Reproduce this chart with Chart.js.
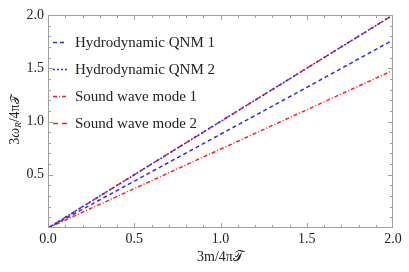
<!DOCTYPE html>
<html>
<head>
<meta charset="utf-8">
<script src="https://cdn.jsdelivr.net/npm/chart.js@4"></script>
<style>
  html, body { margin: 0; padding: 0; background: #fff; }
  #wrap { width: 409px; height: 272px; }
</style>
</head>
<body>
<div id="wrap"><canvas id="chart" width="409" height="272"></canvas></div>
<script>
// DATA
const xValues = [0, 0.5, 1.0, 1.5, 2.0];
const hydroQNM1 = [0, 0.44, 0.88, 1.32, 1.765];
const hydroQNM2 = [0, 0.5, 1.0, 1.5, 2.0];
const soundMode1 = [0, 0.37, 0.74, 1.11, 1.48];
const soundMode2 = [0, 0.5, 1.0, 1.5, 2.0];
const seriesLabels = ["Hydrodynamic QNM 1", "Hydrodynamic QNM 2", "Sound wave mode 1", "Sound wave mode 2"];
const xTicks = [0, 0.5, 1.0, 1.5, 2.0];
const yTicks = [0.5, 1.0, 1.5, 2.0];

const serif = "'Liberation Serif', 'DejaVu Serif', serif";
const blue = "#2a2aff";
const red = "#ff1f1f";
const frameColor = "#a0a0a0";

const toPoints = (ys) => xValues.map((x, i) => ({ x: x, y: ys[i] }));

// frame with inner ticks, legend and axis titles
const framePlugin = {
  id: "frame",
  afterDraw(chart) {
    const ctx = chart.ctx;
    const a = chart.chartArea;
    const xs = chart.scales.x;
    const ys = chart.scales.y;
    ctx.save();
    ctx.strokeStyle = frameColor;
    ctx.lineWidth = 1;
    ctx.strokeRect(a.left + 0.5, a.top + 0.5, a.right - a.left - 1, a.bottom - a.top - 1);
    ctx.beginPath();
    for (let i = 1; i < 20; i++) {
      const v = i / 10;
      const len = i % 5 === 0 ? 5 : 3;
      const px = Math.round(xs.getPixelForValue(v)) + 0.5;
      ctx.moveTo(px, a.bottom); ctx.lineTo(px, a.bottom - len);
      ctx.moveTo(px, a.top); ctx.lineTo(px, a.top + len);
      const py = Math.round(ys.getPixelForValue(v)) + 0.5;
      ctx.moveTo(a.left, py); ctx.lineTo(a.left + len, py);
      ctx.moveTo(a.right, py); ctx.lineTo(a.right - len, py);
    }
    ctx.stroke();

    // legend
    ctx.font = "15px " + serif;
    ctx.textBaseline = "middle";
    ctx.fillStyle = "#222";
    const rows = [42, 69, 96, 123];
    chart.data.datasets.forEach((ds, i) => {
      const y = rows[i] + 0.5;
      ctx.strokeStyle = ds.borderColor;
      ctx.lineWidth = 1.5;
      ctx.setLineDash(ds.borderDash);
      ctx.beginPath();
      ctx.moveTo(53, y); ctx.lineTo(67, y);
      ctx.stroke();
      ctx.setLineDash([]);
      ctx.fillText(ds.label, 75, rows[i] + 1);
    });

    // x title
    ctx.textAlign = "center";
    ctx.textBaseline = "alphabetic";
    ctx.font = "14px " + serif;
    ctx.fillText("3m/4π𝒯", (a.left + a.right) / 2, 261);

    // y title with subscript
    ctx.translate(19, 120);
    ctx.rotate(-Math.PI / 2);
    const parts = [
      { t: "3", f: "14px " + serif, dy: 0 },
      { t: "ω", f: "italic 14px " + serif, dy: 0 },
      { t: "R", f: "italic 9px " + serif, dy: 2 },
      { t: "/4π", f: "14px " + serif, dy: 0 },
      { t: "𝒯", f: "12px " + serif, dy: 0 },
    ];
    let w = 0;
    parts.forEach((p) => { ctx.font = p.f; w += ctx.measureText(p.t).width; });
    let x = -w / 2;
    ctx.textAlign = "left";
    parts.forEach((p) => {
      ctx.font = p.f;
      ctx.fillText(p.t, x, p.dy);
      x += ctx.measureText(p.t).width;
    });
    ctx.restore();
  },
};

const makeSet = (label, ys, color, dash) => ({
  label: label,
  data: toPoints(ys),
  borderColor: color,
  borderWidth: 1.5,
  borderDash: dash,
  pointRadius: 0,
  fill: false,
  tension: 0,
});

new Chart(document.getElementById("chart"), {
  type: "line",
  data: {
    datasets: [
      makeSet(seriesLabels[0], hydroQNM1, blue, [4, 3]),
      makeSet(seriesLabels[1], hydroQNM2, blue, [2, 2]),
      makeSet(seriesLabels[2], soundMode1, red, [4, 2, 1, 2]),
      makeSet(seriesLabels[3], soundMode2, red, [5, 4]),
    ],
  },
  options: {
    responsive: false,
    animation: false,
    layout: { padding: { top: 15, right: 16, left: 0, bottom: 0 } },
    plugins: { legend: { display: false }, tooltip: { enabled: false } },
    scales: {
      x: {
        type: "linear",
        min: 0,
        max: 2,
        afterBuildTicks: (s) => { s.ticks = xTicks.map((v) => ({ value: v })); },
        afterFit: (s) => { s.height = 44; },
        grid: { display: false, drawTicks: false },
        border: { display: false },
        ticks: {
          color: "#222",
          font: { family: serif, size: 14 },
          padding: 3,
          maxRotation: 0,
          callback: (v) => Number(v).toFixed(1),
        },
      },
      y: {
        type: "linear",
        min: 0,
        max: 2,
        afterBuildTicks: (s) => { s.ticks = yTicks.map((v) => ({ value: v })); },
        afterFit: (s) => { s.width = 48; },
        grid: { display: false, drawTicks: false },
        border: { display: false },
        ticks: {
          color: "#222",
          font: { family: serif, size: 14 },
          padding: 4,
          callback: (v) => Number(v).toFixed(1),
        },
      },
    },
  },
  plugins: [framePlugin],
});
</script>
</body>
</html>
